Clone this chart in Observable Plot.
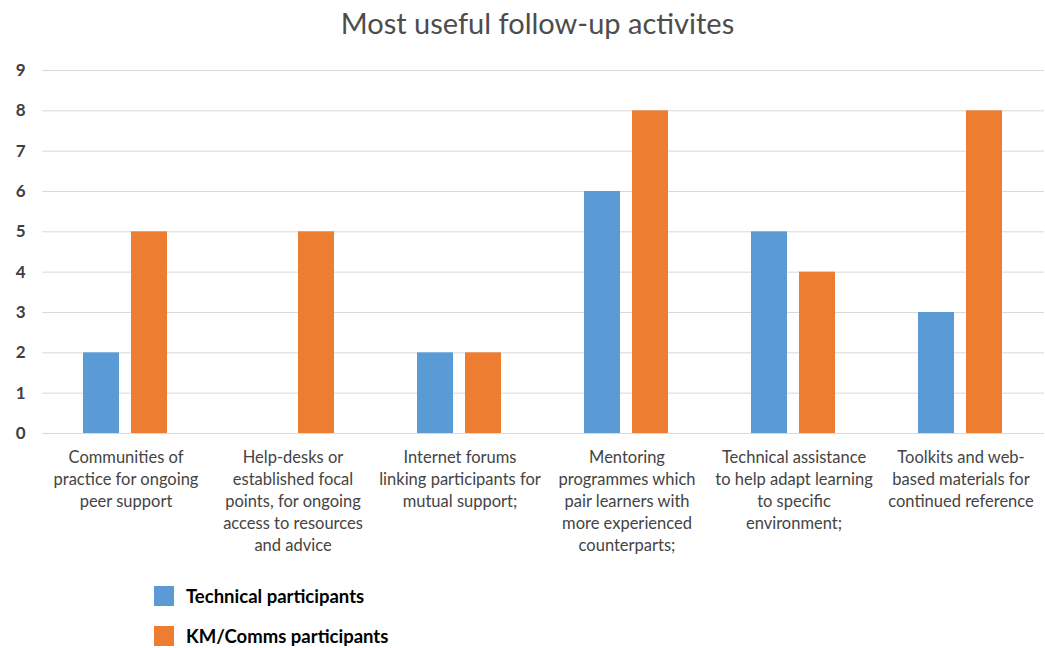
<!DOCTYPE html>
<html>
<head>
<meta charset="utf-8">
<script src="https://cdn.jsdelivr.net/npm/d3@7"></script>
<script src="https://cdn.jsdelivr.net/npm/@observablehq/plot@0.6"></script>
<style>
  body { margin: 0; background: #fff; font-family: Lato, "Open Sans", sans-serif; }
  #wrap { position: relative; width: 1045px; height: 648px; }
  #title { height: 45px; line-height: 45px; text-align: center; font-size: 29px; color: #4d4d4d; padding-left: 30px; }
  #legend { position: absolute; left: 154px; top: 586px; }
  .item { display: flex; align-items: center; height: 20px; margin-bottom: 20px; font-size: 18.5px; font-weight: bold; color: #000; }
  .sw { width: 20px; height: 20px; margin-right: 12px; }
</style>
</head>
<body>
<div id="wrap">
  <div id="title">Most useful follow-up activites</div>
  <div id="chart"></div>
  <div id="legend"></div>
</div>
<script>
const categories = [
  "Communities of practice for ongoing peer support",
  "Help-desks or established focal points, for ongoing access to resources and advice",
  "Internet forums linking participants for mutual support;",
  "Mentoring programmes which pair learners with more experienced counterparts;",
  "Technical assistance to help adapt learning to specific environment;",
  "Toolkits and web-based materials for continued reference"
];
const tickLabels = [
  "Communities of\npractice for ongoing\npeer support",
  "Help-desks or\nestablished focal\npoints, for ongoing\naccess to resources\nand advice",
  "Internet forums\nlinking participants for\nmutual support;",
  "Mentoring\nprogrammes which\npair learners with\nmore experienced\ncounterparts;",
  "Technical assistance\nto help adapt learning\nto specific\nenvironment;",
  "Toolkits and web-\nbased materials for\ncontinued reference"
];
const seriesNames = ["Technical participants", "KM/Comms participants"];
const technical = [2, 0, 2, 6, 5, 3];
const kmComms = [5, 5, 2, 8, 4, 8];
const colors = ["#5B9BD5", "#ED7D31"];
const yTicks = [0, 1, 2, 3, 4, 5, 6, 7, 8, 9];

const data = [];
categories.forEach((c, i) => {
  data.push({cat: c, series: seriesNames[0], value: technical[i]});
  data.push({cat: c, series: seriesNames[1], value: kmComms[i]});
});
const labelOf = new Map(categories.map((c, i) => [c, tickLabels[i]]));

const chart = Plot.plot({
  width: 1045,
  height: 518,
  marginTop: 25,
  marginBottom: 130,
  marginLeft: 40,
  marginRight: 0,
  style: {fontFamily: "Lato, 'Open Sans', sans-serif", background: "#fff"},
  fx: {domain: categories, padding: 0},
  x: {domain: seriesNames, paddingInner: 0.245, paddingOuter: 0.83, axis: null},
  y: {domain: [0, 9]},
  color: {domain: seriesNames, range: colors},
  marks: [
    Plot.ruleY(yTicks, {stroke: "#d9d9d9", strokeWidth: 1}),
    Plot.axisY({ticks: yTicks, tickSize: 0, tickPadding: 17, fontSize: 17, fontWeight: "bold", fill: "#404040", label: null}),
    Plot.barY(data, {fx: "cat", x: "series", y: "value", fill: "series"}),
    Plot.axisFx({anchor: "bottom", tickSize: 0, tickPadding: 14, fontSize: 16.5, fill: "#444", label: null,
      tickFormat: d => labelOf.get(d), lineHeight: 1.33})
  ]
});
document.getElementById("chart").appendChild(chart);

const legend = document.getElementById("legend");
seriesNames.forEach((s, i) => {
  const item = document.createElement("div");
  item.className = "item";
  const sw = document.createElement("div");
  sw.className = "sw";
  sw.style.background = colors[i];
  const t = document.createElement("span");
  t.textContent = s;
  item.appendChild(sw);
  item.appendChild(t);
  legend.appendChild(item);
});
</script>
</body>
</html>
